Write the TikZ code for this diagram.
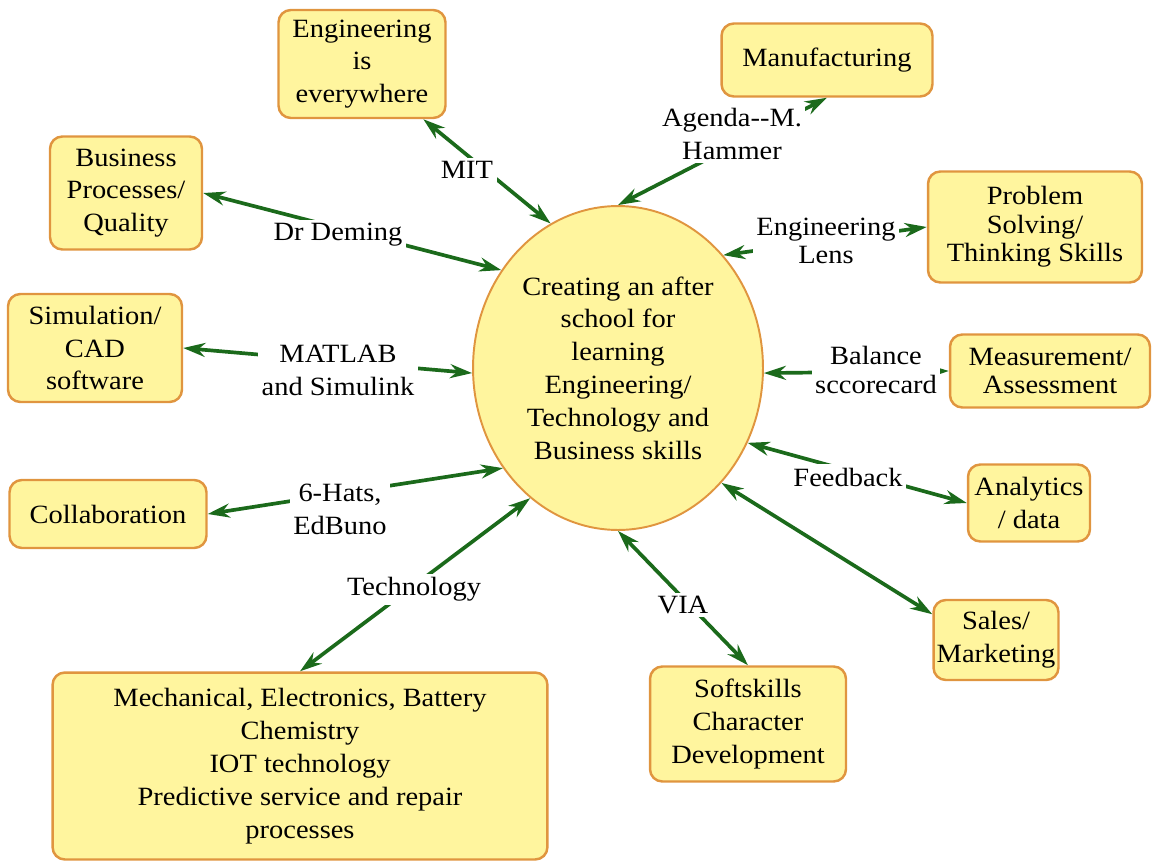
\documentclass[tikz,border=0pt]{standalone}
\usepackage{fontspec}
\setmainfont{Liberation Serif}[FakeStretch=1.08]
\usetikzlibrary{shapes.geometric, arrows.meta}

\begin{document}
\begin{tikzpicture}[x=0.02cm, y=-0.02cm,
    box/.style={draw=borderColour, fill=fillColour, line width=1.4pt, rounded corners=7pt,
        align=center, inner sep=0pt, font=\fontsize{15}{18.7}\selectfont},
    snug/.style={font=\fontsize{15}{16.2}\selectfont},
    tag/.style={fill=white, inner sep=2pt, align=center, font=\fontsize{15}{18.7}\selectfont},
    link/.style={draw=linkColour, line width=2.1pt,
        {Stealth[length=0.44cm,width=0.28cm]}-{Stealth[length=0.44cm,width=0.28cm]}}]
    \definecolor{borderColour}{HTML}{E0953F}
    \definecolor{fillColour}{HTML}{FFF59E}
    \definecolor{linkColour}{HTML}{1B6A1B}

    \useasboundingbox (0,0) rectangle (1153,862);

    % Centre ellipse
    \node[ellipse, draw=borderColour, fill=fillColour, line width=1.1pt, inner sep=0pt,
        minimum width=5.8cm, minimum height=6.48cm, align=center,
        font=\fontsize{15}{18.7}\selectfont] (hub) at (618,368)
        {Creating an after\\ school for\\ learning\\ Engineering/\\ Technology and\\ Business skills};

    % Boxes round the ellipse
    \node[box, minimum width=3.34cm, minimum height=2.16cm] (eng) at (362,64) {Engineering\\ is\\ everywhere};
    \node[box, minimum width=4.22cm, minimum height=1.46cm] (manuf) at (827,60) {Manufacturing};
    \node[box, minimum width=3.04cm, minimum height=2.26cm] (busi) at (126,193) {Business\\ Processes/\\ Quality};
    \node[box, snug, minimum width=4.28cm, minimum height=2.22cm] (solve) at (1035,227) {Problem\\ Solving/\\ Thinking Skills};
    \node[box, minimum width=3.48cm, minimum height=2.16cm] (sim) at (95,348) {Simulation/\\ CAD\\ software};
    \node[box, snug, minimum width=4.0cm, minimum height=1.46cm] (measure) at (1050,371) {Measurement/\\ Assessment};
    \node[box, minimum width=3.94cm, minimum height=1.36cm] (collab) at (108,514) {Collaboration};
    \node[box, minimum width=2.44cm, minimum height=1.54cm] (analytics) at (1029,503) {Analytics\\ / data};
    \node[box, minimum width=2.5cm, minimum height=1.6cm] (sales) at (996,640) {Sales/\\ Marketing};
    \node[box, minimum width=3.92cm, minimum height=2.3cm] (soft) at (748,724) {Softskills\\ Character\\ Development};
    \node[box, minimum width=9.9cm, minimum height=3.74cm] (mech) at (300,766)
        {Mechanical, Electronics, Battery\\ Chemistry\\ IOT technology\\ Predictive service and repair\\ processes};

    % Draw links to the centre
    \draw[link] (eng.-42) -- (hub.115);
    \draw[link] (manuf.south) -- (hub.90);
    \draw[link] (busi.east) -- (hub.140);
    \draw[link] (hub.47) -- (solve.west);
    \draw[link] (sim.east) -- (hub.182);
    \draw[link] (hub.358) -- (measure.west);
    \draw[link] (collab.east) -- (hub.221);
    \draw[link] (hub.330) -- (analytics.west);
    \draw[link] (hub.312) -- (sales.158);
    \draw[link] (hub.270) -- (soft.north);
    \draw[link] (hub.236) -- (mech.north);

    % Labels on the links
    \node[tag] (mitTag) at (467,170) {MIT};
    \node[tag] (agendaTag) at (732,134) {Agenda-{}-M.\\ Hammer};
    \node[tag] (demingTag) at (338,235) {Dr Deming};
    \node[tag, snug] (lensTag) at (826,241) {Engineering\\ Lens};
    \node[tag] (matlabTag) at (338,370) {MATLAB\\ and Simulink};
    \node[tag, snug] (balanceTag) at (876,370) {Balance\\ sccorecard};
    \node[tag] (hatsTag) at (340,509) {6-Hats,\\ EdBuno};
    \node[tag] (feedbackTag) at (848,477) {Feedback};
    \node[tag] (techTag) at (414,589) {Technology};
    \node[tag] (viaTag) at (683,605) {VIA};

\end{tikzpicture}
\end{document}
